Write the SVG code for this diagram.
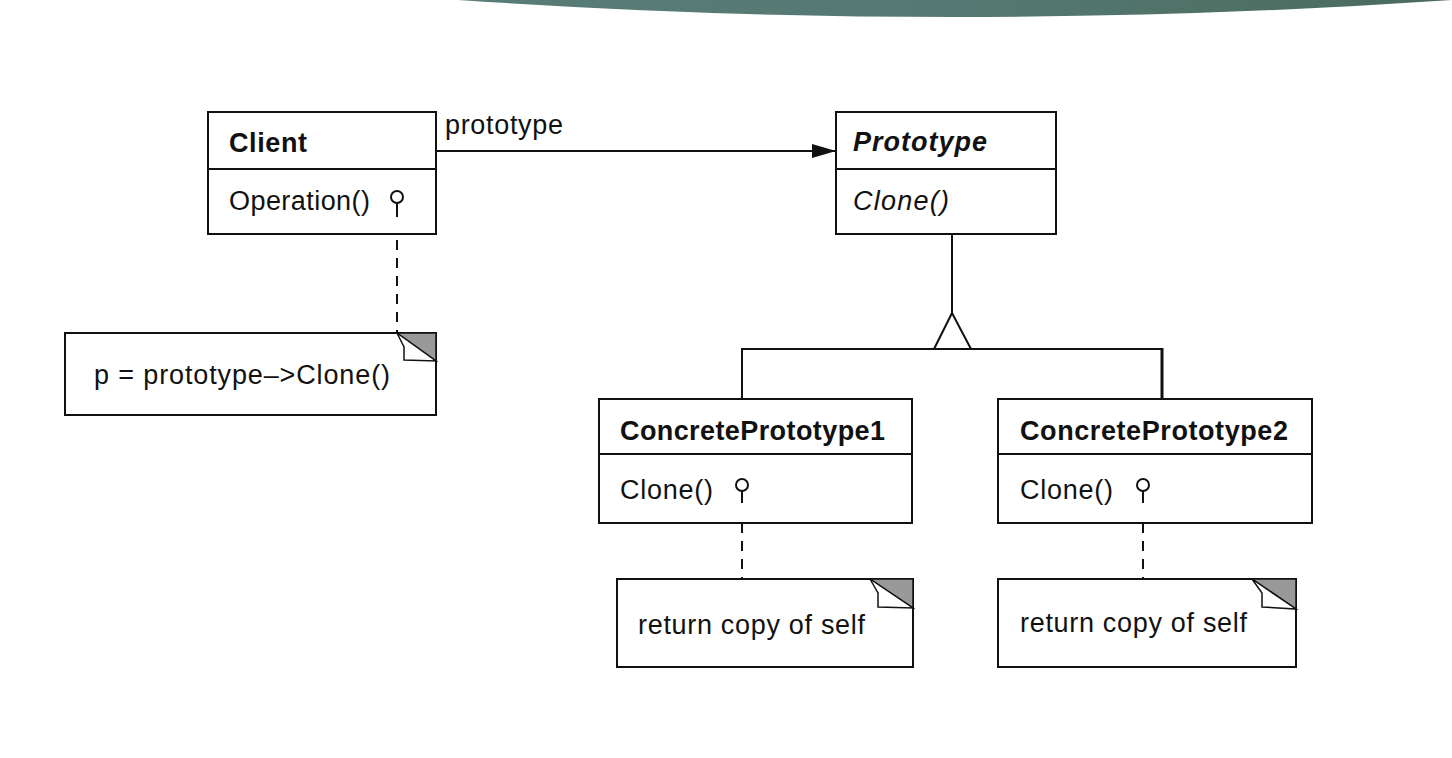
<svg xmlns="http://www.w3.org/2000/svg" width="1452" height="758" viewBox="0 0 1452 758">
<defs>
<linearGradient id="band" x1="0" y1="0" x2="1" y2="0">
<stop offset="0" stop-color="#587d76"/>
<stop offset="0.5" stop-color="#557972"/>
<stop offset="1" stop-color="#4a6a5c"/>
</linearGradient>
<marker id="filled" viewBox="0 0 24 14" refX="24" refY="7" markerWidth="24" markerHeight="14" markerUnits="userSpaceOnUse" orient="auto">
<path d="M0,0 L24,7 L0,14 Z" fill="#111"/>
</marker>
</defs>
<style>
.box{fill:#fff;stroke:#111;stroke-width:2}
.ln{fill:none;stroke:#111;stroke-width:2}
.dash{fill:none;stroke:#111;stroke-width:2;stroke-dasharray:10 8}
.t{font-family:"Liberation Sans",Arial,sans-serif;font-size:27px;fill:#111}
.b{font-weight:bold}
.i{font-style:italic}
.fold{fill:#999;stroke:#111;stroke-width:1.5}
.curl{fill:#fff;stroke:#111;stroke-width:1.5}
.lolly{fill:#fff;stroke:#111;stroke-width:2}
</style>
<rect width="1452" height="758" fill="#fff"/>
<path d="M458,0 Q955,34 1452,0 Z" fill="url(#band)"/>

<g id="connectors">
<line class="ln" x1="436" y1="151" x2="836" y2="151" marker-end="url(#filled)"/>
<text class="t" x="445" y="134" textLength="118">prototype</text>
<line class="ln" x1="952" y1="234" x2="952" y2="313"/>
<path class="ln" d="M952,313 L934,349 L971,349 Z"/>
<line class="ln" x1="742" y1="349" x2="934" y2="349"/>
<line class="ln" x1="971" y1="349" x2="1162" y2="349"/>
<line class="ln" x1="742" y1="348" x2="742" y2="399"/>
<line class="ln" style="stroke-width:3" x1="1162" y1="348" x2="1162" y2="399"/>
<line class="dash" x1="397" y1="222" x2="397" y2="333"/>
<line class="dash" x1="742" y1="505" x2="742" y2="579"/>
<line class="dash" x1="1143" y1="505" x2="1143" y2="579"/>
</g>

<g id="client">
<rect class="box" x="208" y="112" width="228" height="122"/>
<line class="ln" x1="208" y1="169" x2="436" y2="169"/>
<text class="t b" x="229" y="152" textLength="78">Client</text>
<text class="t" x="229" y="210" textLength="141">Operation()</text>
<line class="ln" x1="397" y1="203" x2="397" y2="217"/>
<circle class="lolly" cx="397" cy="197" r="6"/>
</g>

<g id="prototype">
<rect class="box" x="836" y="112" width="220" height="122"/>
<line class="ln" x1="836" y1="169" x2="1056" y2="169"/>
<text class="t b i" x="853" y="151" textLength="134">Prototype</text>
<text class="t i" x="853" y="210" textLength="96">Clone()</text>
</g>

<g id="client-note">
<rect class="box" x="65" y="333" width="371" height="82"/>
<path class="fold" d="M397,333 L436,333 L436,361 Z"/>
<path class="curl" d="M397,333 L436,361 L404,360 L404,347 Z"/>
<text class="t" x="94" y="384" textLength="296">p = prototype–&gt;Clone()</text>
</g>

<g id="concrete1">
<rect class="box" x="599" y="399" width="313" height="124"/>
<line class="ln" x1="599" y1="454" x2="912" y2="454"/>
<text class="t b" x="620" y="440" textLength="265">ConcretePrototype1</text>
<text class="t" x="620" y="499" textLength="93">Clone()</text>
<line class="ln" x1="742" y1="491" x2="742" y2="503"/>
<circle class="lolly" cx="742" cy="485" r="6"/>
</g>

<g id="concrete2">
<rect class="box" x="998" y="399" width="314" height="124"/>
<line class="ln" x1="998" y1="454" x2="1312" y2="454"/>
<text class="t b" x="1020" y="440" textLength="268">ConcretePrototype2</text>
<text class="t" x="1020" y="499" textLength="93">Clone()</text>
<line class="ln" x1="1143" y1="491" x2="1143" y2="503"/>
<circle class="lolly" cx="1143" cy="485" r="6"/>
</g>

<g id="note1">
<rect class="box" x="617" y="579" width="296" height="88"/>
<path class="fold" d="M870,579 L913,579 L913,608 Z"/>
<path class="curl" d="M870,579 L913,608 L878,607 L878,593 Z"/>
<text class="t" x="638" y="634" textLength="227">return copy of self</text>
</g>

<g id="note2">
<rect class="box" x="998" y="579" width="298" height="88"/>
<path class="fold" d="M1252,579 L1296,579 L1296,609 Z"/>
<path class="curl" d="M1252,579 L1296,609 L1262,607 L1262,593 Z"/>
<text class="t" x="1020" y="632" textLength="227">return copy of self</text>
</g>
</svg>
